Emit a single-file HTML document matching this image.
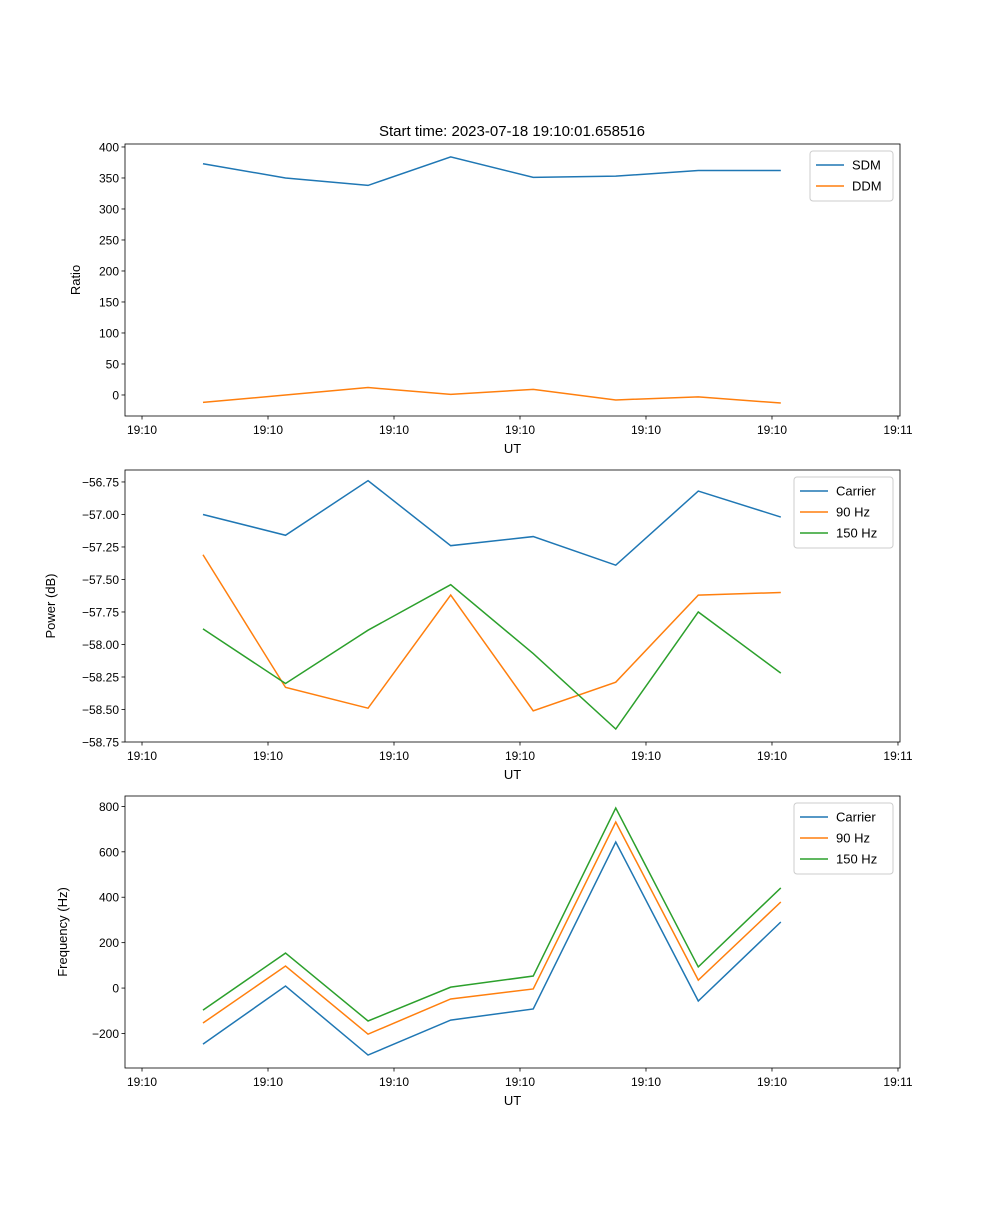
<!DOCTYPE html>
<html><head><meta charset="utf-8"><style>
body{margin:0;background:#fff}
svg{font-family:"Liberation Sans","DejaVu Sans",sans-serif}
</style></head><body>
<svg id="chart" width="1000" height="1200"></svg>
<script>
const times=[4.84,11.39,17.94,24.5,31.05,37.6,44.15,50.7];
const xTickVals=[0,10,20,30,40,50,60];
const xTickLabels=["19:10","19:10","19:10","19:10","19:10","19:10","19:11"];
const sdm=[373,350,338,384,351,353,362,362];
const ddm=[-12,0,12,1,9,-8,-3,-13];
const pCarrier=[-57.0,-57.16,-56.74,-57.24,-57.17,-57.39,-56.82,-57.02];
const p90=[-57.31,-58.33,-58.49,-57.62,-58.51,-58.29,-57.62,-57.60];
const p150=[-57.88,-58.3,-57.89,-57.54,-58.07,-58.65,-57.75,-58.22];
const fCarrier=[-247,9,-295,-141,-92,643,-57,291];
const f90=[-154,97,-203,-48,-4,731,35,379];
const f150=[-97,154,-145,4,53,793,93,441];
const yTicks1=[0,50,100,150,200,250,300,350,400];
const yTicks2=[-56.75,-57.0,-57.25,-57.5,-57.75,-58.0,-58.25,-58.5,-58.75];
const yTickLabels2=["\u221256.75","\u221257.00","\u221257.25","\u221257.50","\u221257.75","\u221258.00","\u221258.25","\u221258.50","\u221258.75"];
const yTicks3=[-200,0,200,400,600,800];
const yTickLabels3=["\u2212200","0","200","400","600","800"];

const svg=document.getElementById('chart');
const NS="http://www.w3.org/2000/svg";
function mk(tag,attrs,parent){const e=document.createElementNS(NS,tag);for(const k in attrs)e.setAttribute(k,attrs[k]);(parent||svg).appendChild(e);return e;}
const L=125,R=900,xMin=-1.35,xMax=60.16;
const xs=v=>L+(v-xMin)/(xMax-xMin)*(R-L);
const C=['#1f77b4','#ff7f0e','#2ca02c'];

function panel(name,top,bottom,yMin,yMax,yt,ytl,ylab,series,names,legW){
  const g=mk('g',{});
  
  
  const ys=v=>bottom-(v-yMin)/(yMax-yMin)*(bottom-top);
  series.forEach((s,i)=>{
    const p=mk('polyline',{points:s.map((v,j)=>xs(times[j])+','+ys(v)).join(' '),fill:'none',stroke:C[i],'stroke-width':1.5},g);
    
    
  });
  mk('rect',{x:L,y:top,width:R-L,height:bottom-top,fill:'none',stroke:'#000','stroke-width':0.8},g);
  xTickVals.forEach((v,i)=>{
    const x=xs(v);
    mk('line',{x1:x,x2:x,y1:bottom,y2:bottom+3.5,stroke:'#000','stroke-width':0.8},g);
    const t=mk('text',{x:x,y:bottom+18,'font-size':12,'text-anchor':'middle'},g);t.textContent=xTickLabels[i];
    
    
  });
  yt.forEach((v,i)=>{
    const y=ys(v);
    mk('line',{x1:L-3.5,x2:L,y1:y,y2:y,stroke:'#000','stroke-width':0.8},g);
    const t=mk('text',{x:L-6,y:y+4.5,'font-size':12,'text-anchor':'end'},g);t.textContent=ytl[i];
    
    
  });
  const xl=mk('text',{x:(L+R)/2,y:bottom+37,'font-size':13,'text-anchor':'middle'},g);xl.textContent='UT';
  
  
  const ly=mk('text',{x:0,y:0,'font-size':13,'text-anchor':'middle',transform:`translate(${ylab[1]},${(top+bottom)/2}) rotate(-90)`},g);ly.textContent=ylab[0];
  
  
  const lx=R-7-legW,lyy=top+7,h=names.length*21+8;
  const lg=mk('g',{},g);
  
  
  mk('rect',{x:lx,y:lyy,width:legW,height:h,fill:'#fff',stroke:'#ccc',rx:3},lg);
  names.forEach((n,i)=>{
    const yy=lyy+14+i*21;
    mk('line',{x1:lx+6,x2:lx+34,y1:yy,y2:yy,stroke:C[i],'stroke-width':1.5},lg);
    const t=mk('text',{x:lx+42,y:yy+4.5,'font-size':13},lg);t.textContent=n;
    
    
  });
}
const title=mk('text',{x:512,y:136,'font-size':15,'text-anchor':'middle'});
title.textContent='Start time: 2023-07-18 19:10:01.658516';


panel('ratio-panel',144,416,-33.9,404.8,yTicks1,yTicks1.map(String),['Ratio',80],[sdm,ddm],['SDM','DDM'],83);
panel('power-panel',470,742,-58.75,-56.658,yTicks2,yTickLabels2,['Power (dB)',55],[pCarrier,p90,p150],['Carrier','90 Hz','150 Hz'],99);
panel('frequency-panel',796,1068,-352,845.8,yTicks3,yTickLabels3,['Frequency (Hz)',67],[fCarrier,f90,f150],['Carrier','90 Hz','150 Hz'],99);
</script>
</body></html>
